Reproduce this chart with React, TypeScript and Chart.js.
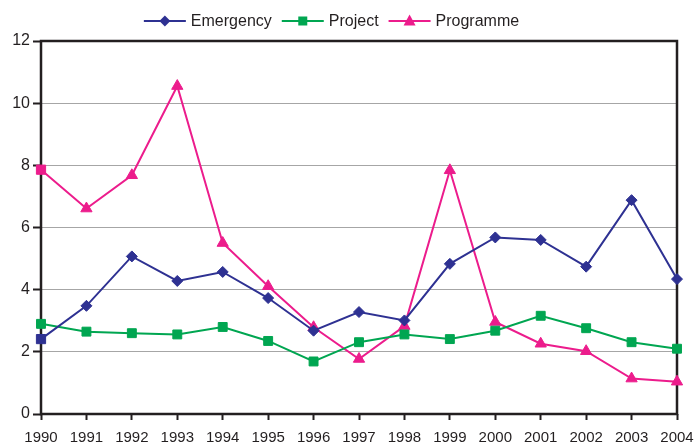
import React, { useEffect, useRef } from 'react';
import { Chart, registerables } from 'chart.js';

Chart.register(...registerables);

const years = ['1990', '1991', '1992', '1993', '1994', '1995', '1996', '1997', '1998', '1999', '2000', '2001', '2002', '2003', '2004'];
const emergency = [2.41, 3.48, 5.07, 4.28, 4.57, 3.73, 2.68, 3.28, 3.01, 4.83, 5.68, 5.6, 4.74, 6.88, 4.34];
const project = [2.9, 2.65, 2.6, 2.56, 2.8, 2.35, 1.69, 2.31, 2.56, 2.41, 2.68, 3.16, 2.76, 2.31, 2.1];
const programme = [7.86, 6.61, 7.68, 10.55, 5.5, 4.11, 2.79, 1.77, 2.83, 7.84, 2.96, 2.26, 2.02, 1.14, 1.04];
const seriesNames = ['Emergency', 'Project', 'Programme'];

const NAVY = '#2E3192';
const GREEN = '#00A651';
const PINK = '#EC1C8C';
const INK = '#231F20';
const FONT = "'Liberation Sans', Arial, sans-serif";

function drawMarker(ctx: CanvasRenderingContext2D, kind: string, x: number, y: number) {
  ctx.beginPath();
  if (kind === 'diamond') {
    ctx.moveTo(x, y - 5.5);
    ctx.lineTo(x + 5.5, y);
    ctx.lineTo(x, y + 5.5);
    ctx.lineTo(x - 5.5, y);
  } else if (kind === 'square') {
    ctx.rect(x - 4.5, y - 4.5, 9, 9);
  } else {
    ctx.moveTo(x, y - 6.5);
    ctx.lineTo(x + 6, y + 4.5);
    ctx.lineTo(x - 6, y + 4.5);
  }
  ctx.closePath();
  ctx.fill();
}

const legendPlugin = {
  id: 'customLegend',
  afterDraw(chart: any) {
    const { ctx } = chart;
    const kinds = ['diamond', 'square', 'triangle'];
    ctx.save();
    ctx.font = `16px ${FONT}`;
    ctx.textBaseline = 'middle';
    ctx.textAlign = 'left';
    const lineW = 42;
    const gap = 5;
    const itemGap = 10;
    const widths = chart.data.datasets.map((d: any) => lineW + gap + ctx.measureText(d.label).width);
    const total = widths.reduce((a: number, b: number) => a + b, 0) + itemGap * (widths.length - 1);
    let x = 331.5 - total / 2;
    const y = 21;
    chart.data.datasets.forEach((d: any, i: number) => {
      ctx.strokeStyle = d.borderColor;
      ctx.fillStyle = d.borderColor;
      ctx.lineWidth = 2;
      ctx.beginPath();
      ctx.moveTo(x, y);
      ctx.lineTo(x + lineW, y);
      ctx.stroke();
      drawMarker(ctx, kinds[i], x + lineW / 2, y);
      ctx.fillStyle = INK;
      ctx.fillText(d.label, x + lineW + gap, y + 1);
      x += widths[i] + itemGap;
    });
    ctx.restore();
  },
};

const framePlugin = {
  id: 'frame',
  beforeDatasetsDraw(chart: any) {
    const { ctx, chartArea } = chart;
    ctx.save();
    ctx.strokeStyle = INK;
    ctx.lineWidth = 2.5;
    ctx.strokeRect(chartArea.left, chartArea.top, chartArea.right - chartArea.left, chartArea.bottom - chartArea.top);
    ctx.restore();
  },
};

export default function App() {
  const ref = useRef<HTMLCanvasElement | null>(null);

  useEffect(() => {
    if (!ref.current) return;
    const first = (a: string, b: string) => years.map((_, i) => (i === 0 ? a : b));
    const chart = new Chart(ref.current, {
      type: 'line',
      data: {
        labels: years,
        datasets: [
          {
            label: seriesNames[0],
            data: emergency,
            borderColor: NAVY,
            backgroundColor: NAVY,
            borderWidth: 2,
            pointStyle: first('rect', 'rectRot') as any,
            pointRadius: years.map((_, i) => (i === 0 ? 6.5 : 5.5)),
            pointBorderWidth: 1,
            clip: false as any,
          },
          {
            label: seriesNames[1],
            data: project,
            borderColor: GREEN,
            backgroundColor: GREEN,
            borderWidth: 2,
            pointStyle: 'rect',
            pointRadius: 6.3,
            pointBorderWidth: 1,
            clip: false as any,
          },
          {
            label: seriesNames[2],
            data: programme,
            borderColor: PINK,
            backgroundColor: PINK,
            borderWidth: 2,
            pointStyle: first('rect', 'triangle') as any,
            pointRadius: 6.5,
            pointBorderWidth: 1,
            clip: false as any,
          },
        ],
      },
      options: {
        animation: false,
        responsive: true,
        maintainAspectRatio: false,
        layout: { padding: { top: 41, right: 20, left: 0, bottom: 0 } },
        plugins: {
          tooltip: { enabled: false },
          legend: { display: false },
        },
        scales: {
          x: {
            offset: false,
            border: { display: false },
            afterFit: (s: any) => {
              s.height = 32;
              s.paddingRight = 20;
              s.paddingLeft = 0;
            },
            grid: {
              display: true,
              drawOnChartArea: false,
              drawTicks: true,
              tickLength: 6,
              tickColor: INK,
              tickWidth: 2,
            },
            ticks: {
              autoSkip: false,
              maxRotation: 0,
              color: INK,
              padding: 10,
              font: { family: FONT, size: 15, lineHeight: 1 },
            },
          },
          y: {
            min: 0,
            max: 12,
            border: { display: false },
            afterFit: (s: any) => {
              s.width = 41;
            },
            grid: {
              color: '#A6A6A6',
              lineWidth: 1,
              tickColor: INK,
              tickWidth: 2,
              tickLength: 8,
            },
            ticks: {
              stepSize: 2,
              color: INK,
              padding: 3,
              font: { family: FONT, size: 16 },
            },
          },
        },
      },
      plugins: [framePlugin, legendPlugin],
    });
    return () => chart.destroy();
  }, []);

  return (
    <div style={{ position: 'absolute', left: 0, top: 0, width: 697, height: 446 }}>
      <canvas ref={ref} />
    </div>
  );
}
